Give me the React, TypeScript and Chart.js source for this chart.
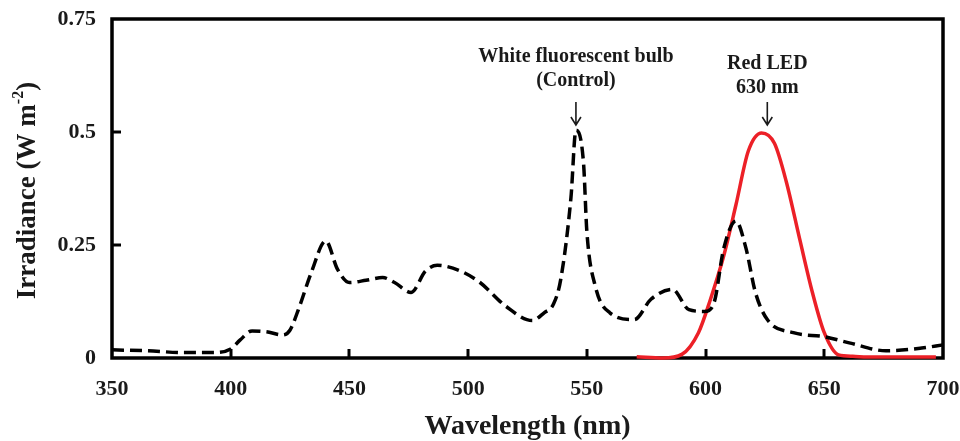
import React, { useEffect, useRef } from "react";
import { Chart, registerables } from "chart.js";
Chart.register(...registerables);

const X_TICK_LABELS = [350, 400, 450, 500, 550, 600, 650, 700];
const Y_TICK_LABELS = [0, 0.25, 0.5, 0.75];

const fluorescentNm = [350, 365, 380, 392, 400, 404, 409, 415, 422, 425, 428.5, 434, 440, 445, 450, 457, 464, 469, 476, 482, 487, 497, 505, 516, 527, 532, 536, 539, 543.3, 545.4, 548.6, 550, 553.6, 559.7, 570, 577, 586, 593, 599.6, 603.6, 607.6, 612.8, 617, 621, 626, 637, 650, 661, 676, 691, 700];
const fluorescentIrr = [0.018, 0.016, 0.012, 0.012, 0.02, 0.04, 0.06, 0.058, 0.051, 0.062, 0.107, 0.19, 0.259, 0.196, 0.167, 0.172, 0.178, 0.167, 0.145, 0.192, 0.205, 0.192, 0.167, 0.114, 0.083, 0.1, 0.12, 0.174, 0.355, 0.504, 0.431, 0.28, 0.158, 0.1, 0.085, 0.13, 0.152, 0.107, 0.103, 0.123, 0.241, 0.303, 0.243, 0.145, 0.085, 0.056, 0.047, 0.033, 0.016, 0.022, 0.029];

const redLedNm = [571, 582, 590, 597, 602, 607.6, 612.8, 618, 623.6, 629, 634, 639.6, 645, 650, 656, 662, 668, 697];
const redLedIrr = [0.003, 0.0, 0.008, 0.056, 0.129, 0.225, 0.339, 0.458, 0.498, 0.475, 0.39, 0.264, 0.145, 0.056, 0.007, 0.004, 0.002, 0.002];

const ANNOTATIONS = [
  { lines: ["White fluorescent bulb", "(Control)"], atNm: 545.4, firstLineOffset: 38 },
  { lines: ["Red LED", "630 nm"], atNm: 626, firstLineOffset: 45 },
];

const Y_TITLE = { main: "Irradiance (W m", sup: "-2", end: ")" };

const FONT = "'Liberation Serif', 'Times New Roman', serif";

const framePlugin = {
  id: "frame",
  beforeDatasetsDraw(chart: any) {
    const { ctx, chartArea, scales } = chart;
    const { left, right, top, bottom } = chartArea;
    ctx.save();
    ctx.strokeStyle = "#000";
    ctx.lineWidth = 3.5;
    ctx.strokeRect(left, top, right - left, bottom - top);
    ctx.lineWidth = 3;
    scales.x.ticks.forEach((t: any) => {
      if (t.value <= 350 || t.value >= 700) return;
      const px = Math.round(scales.x.getPixelForValue(t.value));
      ctx.beginPath();
      ctx.moveTo(px, bottom);
      ctx.lineTo(px, bottom - 9);
      ctx.stroke();
    });
    scales.y.ticks.forEach((t: any) => {
      if (t.value <= 0 || t.value >= 0.75) return;
      const py = Math.round(scales.y.getPixelForValue(t.value));
      ctx.beginPath();
      ctx.moveTo(left, py);
      ctx.lineTo(left + 9, py);
      ctx.stroke();
    });
    ctx.restore();
  },
  afterDraw(chart: any) {
    const { ctx, chartArea, scales } = chart;
    const top = chartArea.top;
    ctx.save();
    ctx.fillStyle = "#1a1a1a";
    ctx.strokeStyle = "#1a1a1a";
    ctx.font = `bold 20px ${FONT}`;
    ctx.textAlign = "center";
    ctx.textBaseline = "middle";
    ANNOTATIONS.forEach((a) => {
      const px = scales.x.getPixelForValue(a.atNm);
      const y0 = top + a.firstLineOffset;
      a.lines.forEach((ln, j) => ctx.fillText(ln, px, y0 + j * 24));
      const ay0 = top + 83;
      const ay1 = top + 106;
      ctx.lineWidth = 1.6;
      ctx.beginPath();
      ctx.moveTo(px, ay0);
      ctx.lineTo(px, ay1);
      ctx.moveTo(px - 5, ay1 - 8);
      ctx.lineTo(px, ay1);
      ctx.lineTo(px + 5, ay1 - 8);
      ctx.stroke();
    });

    // y-axis title with superscript
    const mainFont = `bold 27px ${FONT}`;
    const supFont = `bold 16px ${FONT}`;
    ctx.font = mainFont;
    const w1 = ctx.measureText(Y_TITLE.main).width;
    const w3 = ctx.measureText(Y_TITLE.end).width;
    ctx.font = supFont;
    const w2 = ctx.measureText(Y_TITLE.sup).width;
    const total = w1 + w2 + w3;
    const cy = (chartArea.top + chartArea.bottom) / 2 + 2;
    ctx.translate(28, cy);
    ctx.rotate(-Math.PI / 2);
    ctx.textAlign = "left";
    ctx.textBaseline = "middle";
    let x = -total / 2;
    ctx.font = mainFont;
    ctx.fillText(Y_TITLE.main, x, 0);
    x += w1;
    ctx.font = supFont;
    ctx.fillText(Y_TITLE.sup, x, -9);
    x += w2;
    ctx.font = mainFont;
    ctx.fillText(Y_TITLE.end, x, 0);
    ctx.restore();
  },
};

export default function App() {
  const ref = useRef<HTMLCanvasElement | null>(null);
  useEffect(() => {
    if (!ref.current) return;
    const chart = new Chart(ref.current, {
      type: "line",
      data: {
        datasets: [
          {
            label: "White fluorescent bulb (Control)",
            data: fluorescentNm.map((x, i) => ({ x, y: fluorescentIrr[i] })),
            borderColor: "#000",
            borderWidth: 3.5,
            borderDash: [12, 6],
            pointRadius: 0,
            cubicInterpolationMode: "monotone",
            fill: false,
            clip: false,
          },
          {
            label: "Red LED 630 nm",
            data: redLedNm.map((x, i) => ({ x, y: redLedIrr[i] })),
            borderColor: "#ec2027",
            borderWidth: 3.5,
            pointRadius: 0,
            cubicInterpolationMode: "monotone",
            fill: false,
            clip: false,
          },
        ],
      },
      options: {
        responsive: false,
        animation: false,
        events: [],
        layout: { padding: { top: 19, right: 17, left: 0, bottom: 0 } },
        plugins: { legend: { display: false }, tooltip: { enabled: false } },
        scales: {
          x: {
            type: "linear",
            min: X_TICK_LABELS[0],
            max: X_TICK_LABELS[X_TICK_LABELS.length - 1],
            afterBuildTicks: (s: any) => {
              s.ticks = X_TICK_LABELS.map((v) => ({ value: v }));
            },
            afterFit: (s: any) => {
              s.height = 83;
              s.paddingLeft = 0;
              s.paddingRight = 0;
            },
            grid: { display: false, drawTicks: false },
            border: { display: false },
            ticks: {
              padding: 18,
              color: "#1a1a1a",
              maxRotation: 0,
              callback: (v: any) => String(v),
              font: { family: FONT, size: 22, weight: "bold" },
            },
            title: {
              display: true,
              text: "Wavelength (nm)",
              color: "#1a1a1a",
              padding: { top: 0, bottom: 0 },
              font: { family: FONT, size: 28, weight: "bold", lineHeight: 1.0 },
            },
          },
          y: {
            type: "linear",
            min: 0,
            max: 0.75,
            afterBuildTicks: (s: any) => {
              s.ticks = Y_TICK_LABELS.map((v) => ({ value: v }));
            },
            afterFit: (s: any) => {
              s.width = 112;
              s.paddingTop = 0;
              s.paddingBottom = 0;
            },
            grid: { display: false, drawTicks: false },
            border: { display: false },
            ticks: {
              padding: 16,
              color: "#1a1a1a",
              callback: (v: any) => String(v),
              font: { family: FONT, size: 22, weight: "bold" },
            },
            title: { display: false },
          },
        },
      },
      plugins: [framePlugin],
    } as any);
    return () => chart.destroy();
  }, []);
  return (
    <div style={{ position: "absolute", left: 0, top: 0, width: 960, height: 441, background: "#fff" }}>
      <canvas ref={ref} width={960} height={441} style={{ display: "block" }} />
    </div>
  );
}
